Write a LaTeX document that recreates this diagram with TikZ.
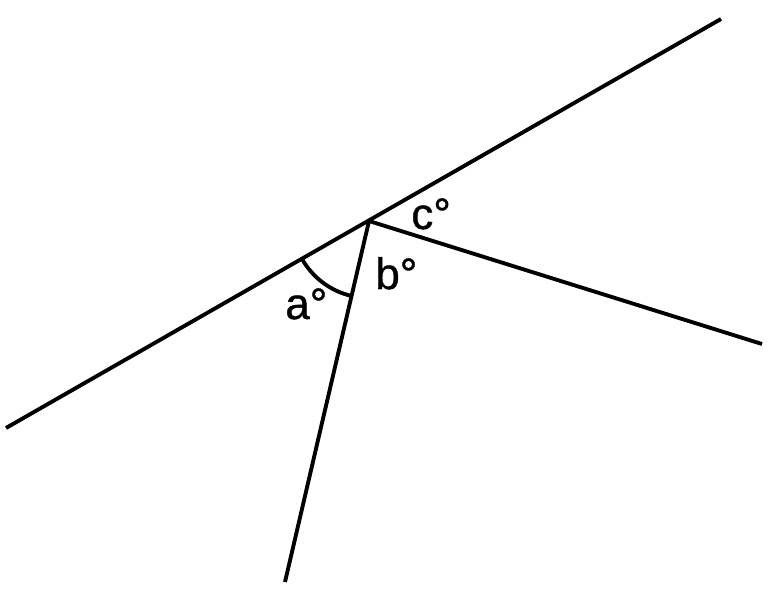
\documentclass[tikz,border=0pt]{standalone}
\usepackage{fontspec}
\setmainfont{Liberation Sans}[FakeBold=0.8]
\usetikzlibrary{angles}
\tikzstyle{ray} = [draw, line width=2.2pt]
\tikzstyle{lbl} = [anchor=base west, inner sep=0pt, font=\fontsize{25}{29}\selectfont]

\begin{document}
\begin{tikzpicture}[x=0.02cm,y=0.02cm]
    \useasboundingbox (0,0) rectangle (769,593);
      \coordinate (vertex) at (369,372);
      \coordinate (left) at (6,165);
      \coordinate (top) at (721,574);
      \coordinate (bottom) at (285,11);
      \coordinate (right) at (762,249);

      \path [ray] (left) -- (top);
      \path [ray] (vertex) -- (bottom);
      \path [ray] (vertex) -- (right);

      \pic [draw, line width=2.2pt, angle radius=1.54cm] {angle = left--vertex--bottom};

      \node [lbl] (a) at (285,274) {a°};
      \node [lbl] (b) at (375,304) {b°};
      \node [lbl] (c) at (411,364) {c°};
    \end{tikzpicture}
\end{document}
